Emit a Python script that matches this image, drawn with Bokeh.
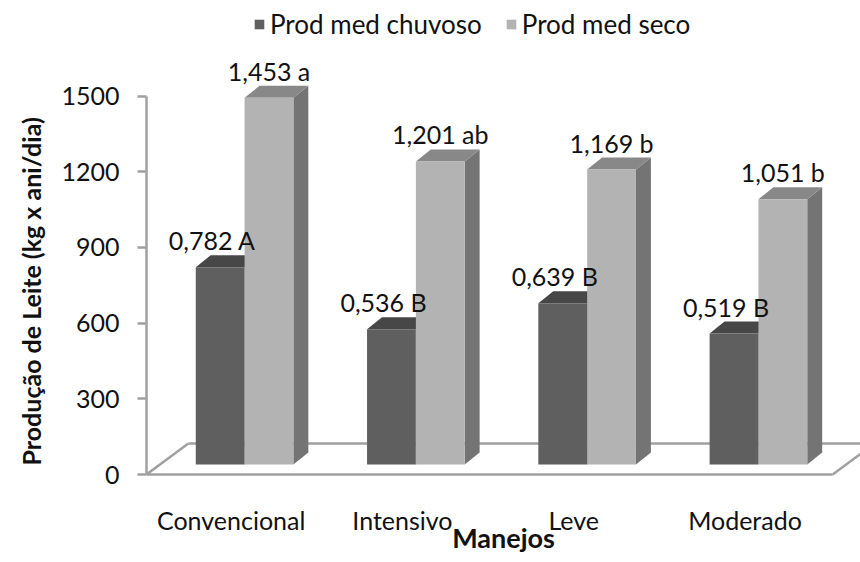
from bokeh.plotting import figure
from bokeh.models import Range1d, FixedTicker, Title, ColumnDataSource
from bokeh.core.properties import value
from bokeh.embed import file_html
from bokeh.resources import INLINE

# ---------------- data ----------------
categories = ["Convencional", "Intensivo", "Leve", "Moderado"]
series_names = ["Prod med chuvoso", "Prod med seco"]
chuvoso = [782, 536, 639, 519]          # kg x ani/dia (x1000 on axis)
seco = [1453, 1201, 1169, 1051]
letters_chuvoso = ["A", "B", "B", "B"]
letters_seco = ["a", "ab", "b", "b"]
y_ticks = [0, 300, 600, 900, 1200, 1500]

# ---------------- style / geometry ----------------
FONT = "Lato"
FS = "25px"
W, H = 860, 562
ML, MB = 143, 82
FRAME_W, FRAME_H = W - ML, H - MB
PX_CAT = 172.0                       # pixels per category
PPU = 378.5 / 1500.0                 # pixels per value unit
X0_PX = 85.0                         # first category centre from frame left
Y0_PX = 6.0                          # value 0 above frame bottom

def dxu(px):
    return px / PX_CAT

def dyu(px):
    return px / PPU

FLOOR_D = (dxu(42), dyu(31))
BAR_FRONT = (dxu(13.5), dyu(10))
BAR_D = (dxu(15), dyu(12))
BAR_W = 0.285
LABEL_GAP = dyu(27)
FLOOR_RIGHT = 3.512

COL = {
    0: dict(front="#5f5f5f", top="#474747", side="#3e3e3e"),
    1: dict(front="#b3b3b3", top="#888888", side="#747474"),
}
LINE = "#a0a0a0"
TXT = "#111111"

x_start = -X0_PX / PX_CAT
y_start = -Y0_PX / PPU
p = figure(width=W, height=H, output_backend="svg", toolbar_location=None,
           x_range=Range1d(x_start, x_start + FRAME_W / PX_CAT),
           y_range=Range1d(y_start, y_start + FRAME_H / PPU),
           min_border_left=ML, min_border_right=0, min_border_top=0,
           min_border_bottom=MB)
p.outline_line_color = None
p.xgrid.visible = False
p.ygrid.visible = False
p.background_fill_color = "white"
p.border_fill_color = "white"

# ---------------- floor ----------------
n = len(categories)
fx0, fx1 = x_start, FLOOR_RIGHT
floor_xs = [[fx0, fx1], [fx0, fx0 + FLOOR_D[0]], [fx0 + FLOOR_D[0], fx1 + 2 * FLOOR_D[0]],
            [fx1, fx1 + FLOOR_D[0]]]
floor_ys = [[0, 0], [0, FLOOR_D[1]], [FLOOR_D[1], FLOOR_D[1]], [0, FLOOR_D[1]]]
p.multi_line(floor_xs, floor_ys, line_color=LINE, line_width=2.5)

# ---------------- bars ----------------
for s, vals in enumerate([chuvoso, seco]):
    fronts = dict(l=[], r=[], b=[], t=[])
    tops_x, tops_y, sides_x, sides_y = [], [], [], []
    for i, v in enumerate(vals):
        xl = i + BAR_FRONT[0] - BAR_W + s * BAR_W
        xr = xl + BAR_W
        yb = BAR_FRONT[1]
        yt = yb + v
        fronts["l"].append(xl); fronts["r"].append(xr)
        fronts["b"].append(yb); fronts["t"].append(yt)
        tops_x.append([xl, xr, xr + BAR_D[0], xl + BAR_D[0]])
        tops_y.append([yt, yt, yt + BAR_D[1], yt + BAR_D[1]])
        sides_x.append([xr, xr, xr + BAR_D[0], xr + BAR_D[0]])
        sides_y.append([yb, yt, yt + BAR_D[1], yb + BAR_D[1]])
    p.patches(sides_x, sides_y, fill_color=COL[s]["side"], line_color=None)
    p.patches(tops_x, tops_y, fill_color=COL[s]["top"], line_color=None)
    p.quad(left=fronts["l"], right=fronts["r"], bottom=fronts["b"], top=fronts["t"],
           fill_color=COL[s]["front"], line_color=None, legend_label=series_names[s])

# ---------------- value labels ----------------
def fmt(v, letter):
    return ("%.3f" % (v / 1000.0)).replace(".", ",") + " " + letter

lab_x, lab_y, lab_t = [], [], []
for s, (vals, lets) in enumerate([(chuvoso, letters_chuvoso), (seco, letters_seco)]):
    shift = -dxu(8) if s == 0 else 0.0
    for i, (v, l) in enumerate(zip(vals, lets)):
        lab_x.append(i + BAR_FRONT[0] - BAR_W / 2 + s * BAR_W + shift)
        lab_y.append(BAR_FRONT[1] + v + LABEL_GAP)
        lab_t.append(fmt(v, l))
src = ColumnDataSource(dict(x=lab_x, y=lab_y, t=lab_t))
p.text(x="x", y="y", text="t", source=src, text_align="center", text_baseline="middle",
       text_font=value(FONT), text_font_size=FS, text_color=TXT)

# ---------------- axes ----------------
p.yaxis.ticker = FixedTicker(ticks=y_ticks)
p.yaxis.bounds = (0, 1500)
p.yaxis.axis_line_color = LINE
p.yaxis.axis_line_width = 2.5
p.yaxis.major_tick_line_color = LINE
p.yaxis.major_tick_line_width = 2.5
p.yaxis.major_tick_out = 9
p.yaxis.major_tick_in = 0
p.yaxis.minor_tick_line_color = None
p.yaxis.major_label_standoff = 18
p.yaxis.major_label_text_font = FONT
p.yaxis.major_label_text_font_size = FS
p.yaxis.major_label_text_color = TXT

p.xaxis.ticker = FixedTicker(ticks=list(range(n)))
p.xaxis.major_label_overrides = {i: c for i, c in enumerate(categories)}
p.xaxis.axis_line_color = None
p.xaxis.major_tick_line_color = None
p.xaxis.minor_tick_line_color = None
p.xaxis.major_tick_out = 0
p.xaxis.major_tick_in = 0
p.xaxis.major_label_standoff = 24
p.xaxis.major_label_text_font = FONT
p.xaxis.major_label_text_font_size = FS
p.xaxis.major_label_text_color = TXT
p.xaxis.axis_label = "Manejos"
p.xaxis.axis_label_standoff = -17
p.xaxis.axis_label_text_font = FONT
p.xaxis.axis_label_text_font_size = "27px"
p.xaxis.axis_label_text_font_style = "bold"
p.xaxis.axis_label_text_color = TXT

p.add_layout(Title(text="Produção de Leite (kg x ani/dia)", align="left", offset=15,
                   standoff=26, text_font=FONT, text_font_size=FS,
                   text_font_style="bold", text_color=TXT), "left")

# ---------------- legend ----------------
lg = p.legend[0]
lg.orientation = "horizontal"
lg.location = (107, 440)
lg.border_line_color = None
lg.background_fill_alpha = 0
lg.padding = 0
lg.margin = 0
lg.spacing = 23
lg.label_standoff = 5
lg.glyph_width = 12
lg.glyph_height = 12
lg.label_text_font = FONT
lg.label_text_font_size = "26px"
lg.label_text_color = TXT

open("out.html", "w").write(file_html(p, INLINE))
